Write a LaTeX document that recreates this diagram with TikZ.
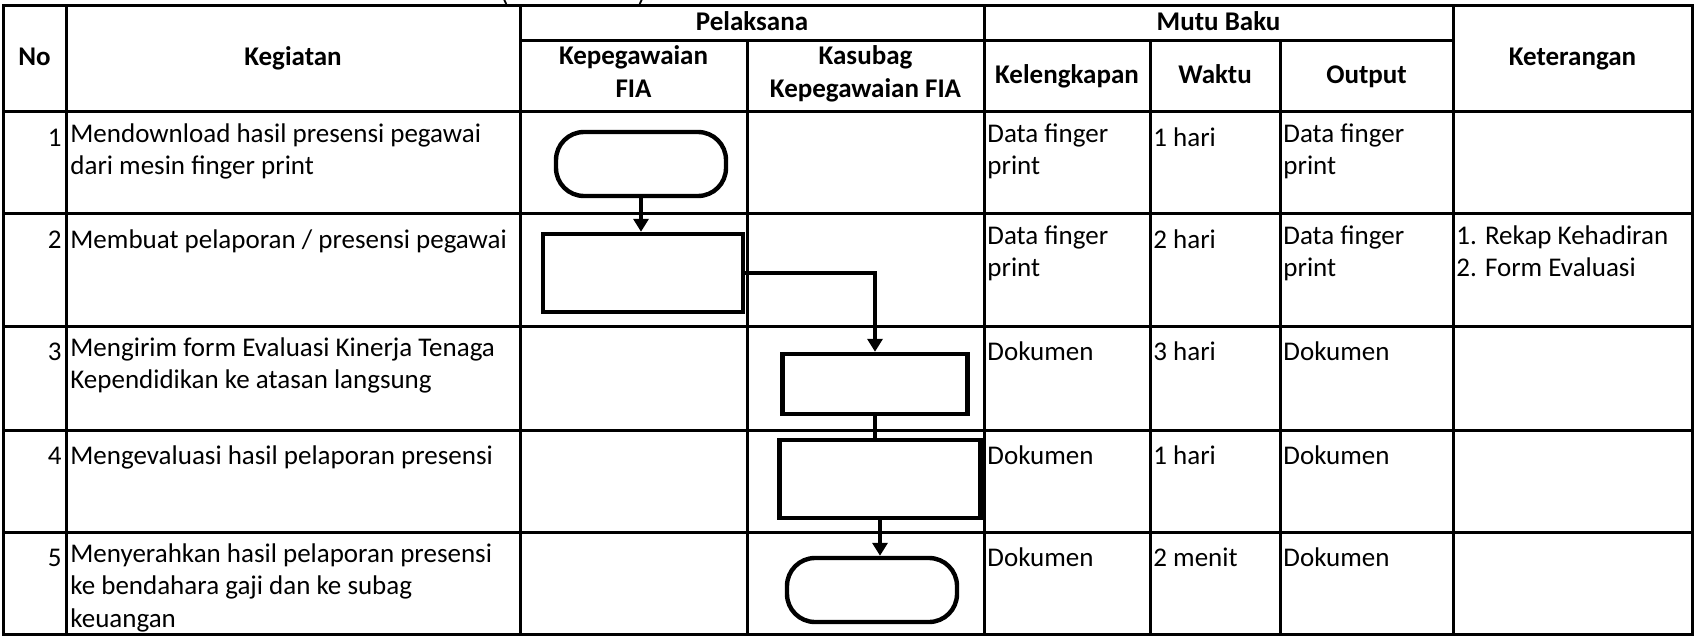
\documentclass[tikz,border=0pt]{standalone}
\usepackage{fontspec}
\setmainfont{Carlito}
\usetikzlibrary{arrows.meta}
\newcommand{\fs}{\fontsize{13.5pt}{16.3pt}\selectfont}
\begin{document}
\begin{tikzpicture}[x=0.5pt,y=-0.5pt,
  gridline/.style={line width=1.5pt},
  hdr/.style={inner sep=0, align=center, font=\fs\bfseries, execute at begin node=\strut},
  cell/.style={anchor=north west, inner sep=0, align=left, font=\fs, execute at begin node=\strut},
  num/.style={anchor=north east, inner sep=0, font=\fs, execute at begin node=\strut},
  procbox/.style={draw, line width=2.2pt, inner sep=0, rectangle},
  termbox/.style={draw, line width=2.2pt, inner sep=0, rectangle, rounded corners=14pt, minimum width=85pt, minimum height=32pt},
  arr/.style={line width=2pt, -{Triangle[width=7.5pt,length=6.5pt]}},
  lnk/.style={line width=2pt}
]
\fill[white] (0,0) rectangle (1695,636);
\useasboundingbox (0,0) rectangle (1695,636);

% partially visible title above the frame
\begin{scope}
\clip (0,0) rectangle (1695,636);
\node[anchor=base west, inner sep=0, font=\fs] (title) at (500,2) {(\hspace{64.5pt})};
\end{scope}

% grid
\draw[gridline] (3,6) rectangle (1692,634);
\draw[gridline] (520,41) -- (1453,41);
\foreach \yy in {112,214,326,430,532} \draw[gridline] (3,\yy) -- (1692,\yy);
\foreach \xx in {66,520,984,1453} \draw[gridline] (\xx,6) -- (\xx,634);
\foreach \xx in {747,1150,1280} \draw[gridline] (\xx,41) -- (\xx,634);

% headers
\node[hdr] (hNo) at (34.5,59) {No};
\node[hdr] (hKeg) at (293,59) {Kegiatan};
\node[hdr] (hPel) at (752,23.5) {Pelaksana};
\node[hdr] (hMutu) at (1218.5,23.5) {Mutu Baku};
\node[hdr] (hKet) at (1572.5,59) {Keterangan};
\node[hdr] (hKp) at (633.5,76.5) {Kepegawaian\\\strut FIA};
\node[hdr] (hKs) at (865.5,76.5) {Kasubag\\\strut Kepegawaian FIA};
\node[hdr] (hKl) at (1067,76.5) {Kelengkapan};
\node[hdr] (hW) at (1215,76.5) {Waktu};
\node[hdr] (hO) at (1366.5,76.5) {Output};

% row 1
\node[num] (n1) at (62,123) {1};
\node[cell] (k1) at (70,123) {Mendownload hasil presensi pegawai\\dari mesin finger print};
\node[cell] (l1) at (987,123) {Data finger\\print};
\node[cell] (w1) at (1153,123) {1 hari};
\node[cell] (o1) at (1283,123) {Data finger\\print};
% row 2
\node[num] (n2) at (62,225) {2};
\node[cell] (k2) at (70,225) {Membuat pelaporan / presensi pegawai};
\node[cell] (l2) at (987,225) {Data finger\\print};
\node[cell] (w2) at (1153,225) {2 hari};
\node[cell] (o2) at (1283,225) {Data finger\\print};
\node[cell] (t2) at (1456,225) {1. Rekap Kehadiran\\2. Form Evaluasi};
% row 3
\node[num] (n3) at (62,337) {3};
\node[cell] (k3) at (70,337) {Mengirim form Evaluasi Kinerja Tenaga\\Kependidikan ke atasan langsung};
\node[cell] (l3) at (987,337) {Dokumen};
\node[cell] (w3) at (1153,337) {3 hari};
\node[cell] (o3) at (1283,337) {Dokumen};
% row 4
\node[num] (n4) at (62,441) {4};
\node[cell] (k4) at (70,441) {Mengevaluasi hasil pelaporan presensi};
\node[cell] (l4) at (987,441) {Dokumen};
\node[cell] (w4) at (1153,441) {1 hari};
\node[cell] (o4) at (1283,441) {Dokumen};
% row 5
\node[num] (n5) at (62,543) {5};
\node[cell] (k5) at (70,543) {Menyerahkan hasil pelaporan presensi\\ke bendahara gaji dan ke subag\\keuangan};
\node[cell] (l5) at (987,543) {Dokumen};
\node[cell] (w5) at (1153,543) {2 menit};
\node[cell] (o5) at (1283,543) {Dokumen};

% flowchart shapes
\node[termbox] (T1) at (641,164) {};
\node[procbox, minimum width=100pt, minimum height=39pt] (P2) at (643,273) {};
\node[procbox, minimum width=92.5pt, minimum height=30pt] (P3) at (875,384) {};
\node[procbox, minimum width=100.5pt, minimum height=39pt] (P4) at (880,479) {};
\node[termbox] (T5) at (872,590) {};

% connectors
\draw[arr] (T1.south) -- (T1.south |- P2.north);
\draw[arr] (P2.east) -| (P3.north);
\draw[lnk] (P3.south) -- (P3.south |- P4.north);
\draw[arr] (P4.south) -- (P4.south |- T5.north);
\end{tikzpicture}
\end{document}
